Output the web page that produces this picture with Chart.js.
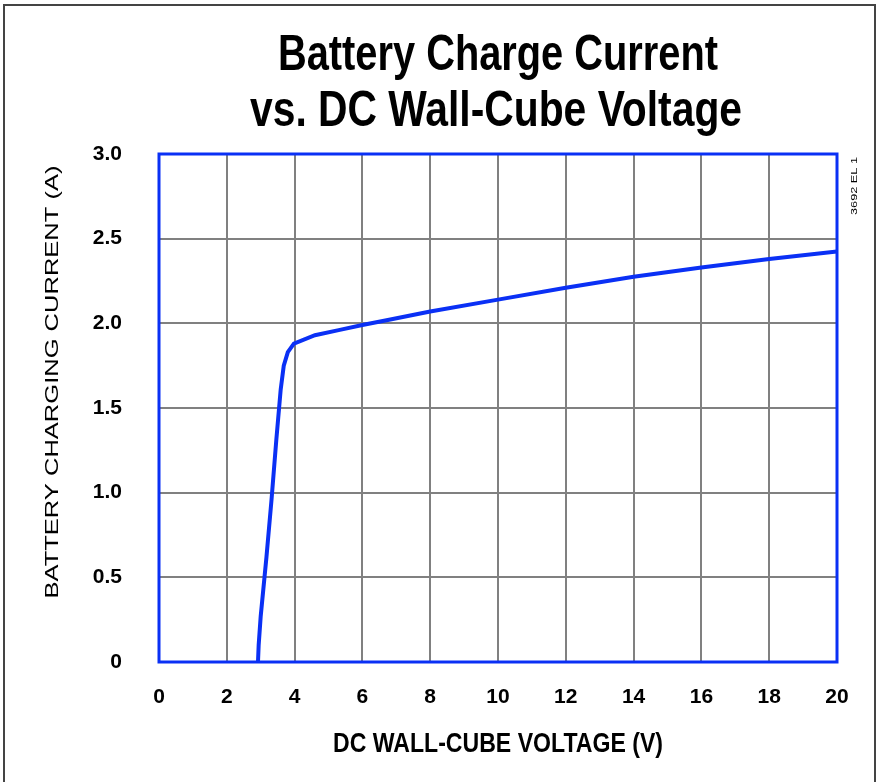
<!DOCTYPE html>
<html><head><meta charset="utf-8">
<style>html,body{margin:0;padding:0;background:#fff}#wrap{position:relative;width:876px;height:782px}</style>
<script src="https://cdn.jsdelivr.net/npm/chart.js@4.4.1/dist/chart.umd.min.js"></script>
</head><body><div id="wrap"><canvas id="c" width="876" height="782"></canvas></div>
<script>
const titleLines = ["Battery Charge Current", "vs. DC Wall-Cube Voltage"];
const xAxisTitle = "DC WALL-CUBE VOLTAGE (V)";
const yAxisTitle = "BATTERY CHARGING CURRENT (A)";
const figureCode = "3692 EL 1";
const voltage = [2.92, 2.94, 3.0, 3.17, 3.32, 3.46, 3.59, 3.68, 3.8, 3.98, 4.6, 5.3, 6.0, 6.75, 8, 10, 12, 14, 16, 18, 20];
const current = [0, 0.1, 0.27, 0.62, 0.96, 1.31, 1.61, 1.75, 1.83, 1.88, 1.93, 1.96, 1.99, 2.02, 2.07, 2.14, 2.21, 2.275, 2.33, 2.38, 2.425];
const xTickValues = [0, 2, 4, 6, 8, 10, 12, 14, 16, 18, 20];
const yTickLabels = ["0", "0.5", "1.0", "1.5", "2.0", "2.5", "3.0"];

const BLUE = '#0a30f5';
const TICK_FONT = "'Liberation Sans', Arial, sans-serif";

function drawFit(ctx, text, cx, by, targetW, font) {
  ctx.font = font;
  const w = ctx.measureText(text).width;
  ctx.save();
  ctx.translate(cx, by);
  ctx.scale(targetW / w, 1);
  ctx.textAlign = 'center';
  ctx.textBaseline = 'alphabetic';
  ctx.fillText(text, 0, 0);
  ctx.restore();
}
function drawFitRot(ctx, text, bx, cy, targetL, font) {
  ctx.font = font;
  const w = ctx.measureText(text).width;
  ctx.save();
  ctx.translate(bx, cy);
  ctx.rotate(-Math.PI / 2);
  ctx.scale(targetL / w, 1);
  ctx.textAlign = 'center';
  ctx.textBaseline = 'alphabetic';
  ctx.fillText(text, 0, 0);
  ctx.restore();
}

const decor = {
  id: 'decor',
  beforeDatasetsDraw(chart) {
    const {ctx, chartArea: a} = chart;
    ctx.save();
    ctx.strokeStyle = BLUE;
    ctx.lineWidth = 3;
    ctx.strokeRect(a.left, a.top, a.right - a.left, a.bottom - a.top);
    ctx.restore();
  },
  afterDraw(chart) {
    const ctx = chart.ctx;
    ctx.save();
    ctx.strokeStyle = '#444';
    ctx.lineWidth = 2;
    ctx.strokeRect(4, 5, 871, 800);
    ctx.fillStyle = '#000';
    drawFit(ctx, titleLines[0], 498, 70, 440, "bold 50px 'Liberation Sans', sans-serif");
    drawFit(ctx, titleLines[1], 496, 126, 492, "bold 50px 'Liberation Sans', sans-serif");
    drawFit(ctx, xAxisTitle, 498, 752, 330, "bold 28px 'Liberation Sans', sans-serif");
    drawFitRot(ctx, yAxisTitle, 58, 382, 433, "19px 'Liberation Sans', sans-serif");
    drawFitRot(ctx, figureCode, 857, 186, 58, "9px 'Liberation Sans', sans-serif");
    ctx.restore();
  }
};

const points = voltage.map((v, i) => ({x: v, y: current[i]}));

new Chart(document.getElementById('c'), {
  type: 'line',
  data: { datasets: [{ data: points, borderColor: BLUE, borderWidth: 4, pointRadius: 0, tension: 0, fill: false }] },
  options: {
    responsive: false, animation: false, devicePixelRatio: 1,
    layout: { padding: { top: 154, right: 39, bottom: 60, left: 0 } },
    plugins: { legend: { display: false }, title: { display: false }, tooltip: { enabled: false } },
    scales: {
      x: {
        type: 'linear', min: 0, max: 20,
        afterBuildTicks(s) { s.ticks = xTickValues.map(v => ({value: v})); },
        afterFit(s) { s.height = 60; },
        grid: { color: '#808080', lineWidth: 2, drawTicks: false },
        border: { display: false },
        ticks: { padding: 23, color: '#000', font: { family: TICK_FONT, size: 21, weight: 'bold' }, maxRotation: 0, autoSkip: false }
      },
      y: {
        type: 'linear', min: 0, max: 3,
        afterBuildTicks(s) { s.ticks = yTickLabels.map(t => ({value: parseFloat(t)})); },
        afterFit(s) { s.width = 159; },
        grid: { color: '#808080', lineWidth: 2, drawTicks: false },
        border: { display: false },
        ticks: { padding: 37, color: '#000', font: { family: TICK_FONT, size: 21, weight: 'bold' },
          callback: (v) => yTickLabels.find(t => parseFloat(t) === v) ?? '' }
      }
    }
  },
  plugins: [decor]
});
</script>
</body></html>
